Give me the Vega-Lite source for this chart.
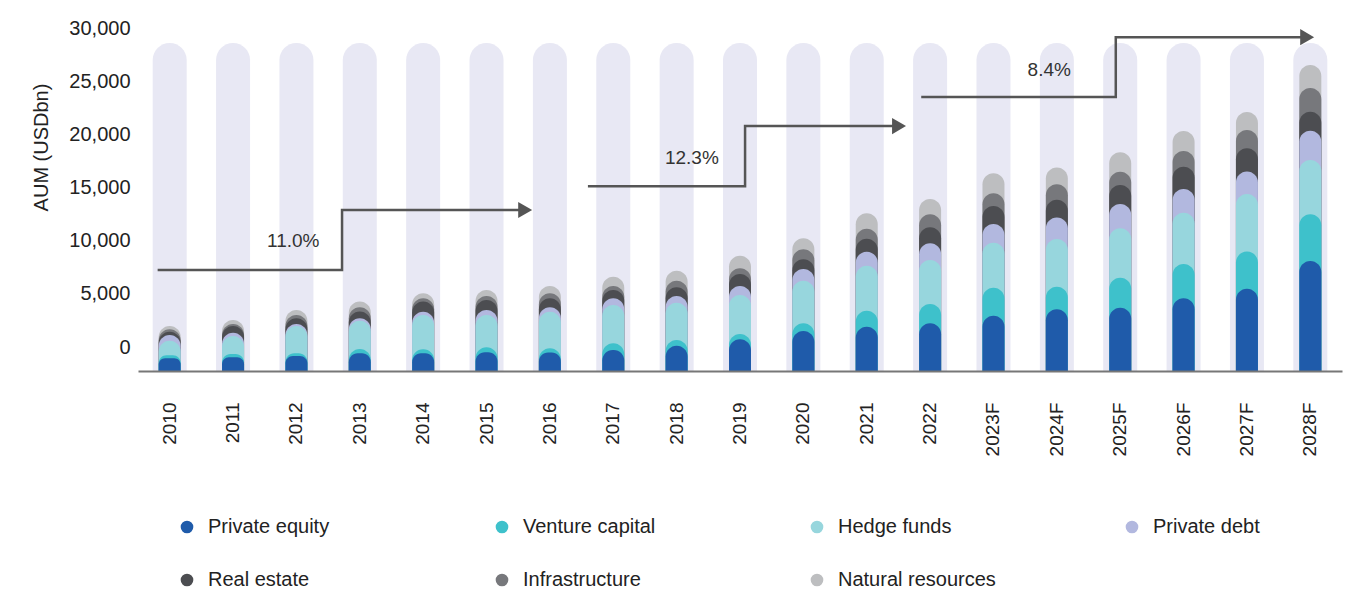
{
  "$schema": "https://vega.github.io/schema/vega-lite/v6.json",
  "width": 1204,
  "height": 340,
  "autosize": {"type": "none"},
  "padding": {"left": 138, "top": 31, "right": 21, "bottom": 219},
  "background": "white",
  "config": {"view": {"stroke": null}, "font": "Liberation Sans"},
  "datasets": {
    "aum": [
      {"year": "2010", "Private equity": 1200, "Venture capital": 280, "Hedge funds": 1370, "Private debt": 540, "Real estate": 310, "Infrastructure": 230, "Natural resources": 310},
      {"year": "2011", "Private equity": 1290, "Venture capital": 310, "Hedge funds": 1690, "Private debt": 310, "Real estate": 630, "Infrastructure": 190, "Natural resources": 380},
      {"year": "2012", "Private equity": 1410, "Venture capital": 250, "Hedge funds": 2570, "Private debt": 190, "Real estate": 540, "Infrastructure": 310, "Natural resources": 470},
      {"year": "2013", "Private equity": 1670, "Venture capital": 400, "Hedge funds": 2670, "Private debt": 230, "Real estate": 620, "Infrastructure": 420, "Natural resources": 530},
      {"year": "2014", "Private equity": 1670, "Venture capital": 370, "Hedge funds": 3230, "Private debt": 310, "Real estate": 950, "Infrastructure": 310, "Natural resources": 470},
      {"year": "2015", "Private equity": 1760, "Venture capital": 470, "Hedge funds": 3040, "Private debt": 470, "Real estate": 940, "Infrastructure": 380, "Natural resources": 560},
      {"year": "2016", "Private equity": 1730, "Venture capital": 410, "Hedge funds": 3440, "Private debt": 420, "Real estate": 840, "Infrastructure": 470, "Natural resources": 690},
      {"year": "2017", "Private equity": 1980, "Venture capital": 630, "Hedge funds": 3600, "Private debt": 630, "Real estate": 780, "Infrastructure": 380, "Natural resources": 880},
      {"year": "2018", "Private equity": 2380, "Venture capital": 540, "Hedge funds": 3510, "Private debt": 630, "Real estate": 820, "Infrastructure": 620, "Natural resources": 940},
      {"year": "2019", "Private equity": 2990, "Venture capital": 490, "Hedge funds": 3670, "Private debt": 850, "Real estate": 1130, "Infrastructure": 540, "Natural resources": 1180},
      {"year": "2020", "Private equity": 3770, "Venture capital": 720, "Hedge funds": 4010, "Private debt": 1100, "Real estate": 910, "Infrastructure": 950, "Natural resources": 1030},
      {"year": "2021", "Private equity": 4170, "Venture capital": 1510, "Hedge funds": 4230, "Private debt": 1320, "Real estate": 1220, "Infrastructure": 950, "Natural resources": 1440},
      {"year": "2022", "Private equity": 4490, "Venture capital": 1820, "Hedge funds": 4140, "Private debt": 1570, "Real estate": 1510, "Infrastructure": 1220, "Natural resources": 1440},
      {"year": "2023F", "Private equity": 5210, "Venture capital": 2630, "Hedge funds": 4240, "Private debt": 1760, "Real estate": 1700, "Infrastructure": 1190, "Natural resources": 1880},
      {"year": "2024F", "Private equity": 5810, "Venture capital": 2130, "Hedge funds": 4490, "Private debt": 2010, "Real estate": 1670, "Infrastructure": 1470, "Natural resources": 1570},
      {"year": "2025F", "Private equity": 5960, "Venture capital": 2820, "Hedge funds": 4650, "Private debt": 2290, "Real estate": 1790, "Infrastructure": 1250, "Natural resources": 1830},
      {"year": "2026F", "Private equity": 6840, "Venture capital": 3230, "Hedge funds": 4830, "Private debt": 2230, "Real estate": 2100, "Infrastructure": 1480, "Natural resources": 1880},
      {"year": "2027F", "Private equity": 7750, "Venture capital": 3490, "Hedge funds": 5430, "Private debt": 2100, "Real estate": 2200, "Infrastructure": 1720, "Natural resources": 1690},
      {"year": "2028F", "Private equity": 10350, "Venture capital": 4400, "Hedge funds": 5110, "Private debt": 2760, "Real estate": 1790, "Infrastructure": 2230, "Natural resources": 2170}
    ],
    "steps": [
      {"period": "2010-2016", "u": 0.31, "v": 9500},
      {"period": "2010-2016", "u": 3.22, "v": 9500},
      {"period": "2010-2016", "u": 3.22, "v": 15150},
      {"period": "2010-2016", "u": 6.11, "v": 15150},
      {"period": "2017-2022", "u": 7.1, "v": 17400},
      {"period": "2017-2022", "u": 9.58, "v": 17400},
      {"period": "2017-2022", "u": 9.58, "v": 23050},
      {"period": "2017-2022", "u": 12.01, "v": 23050},
      {"period": "2022-2028F", "u": 12.36, "v": 25780},
      {"period": "2022-2028F", "u": 15.43, "v": 25780},
      {"period": "2022-2028F", "u": 15.43, "v": 31420},
      {"period": "2022-2028F", "u": 18.45, "v": 31420}
    ],
    "heads": [
      {"period": "2010-2016", "u": 6.11, "v": 15150},
      {"period": "2017-2022", "u": 12.01, "v": 23050},
      {"period": "2022-2028F", "u": 18.45, "v": 31420}
    ],
    "cagr": [
      {"period": "2010-2016", "u": 2.45, "v": 12235, "label": "11.0%"},
      {"period": "2017-2022", "u": 8.74, "v": 20050, "label": "12.3%"},
      {"period": "2022-2028F", "u": 14.38, "v": 28330, "label": "8.4%"}
    ]
  },
  "layer": [
    {
      "data": {"name": "aum"},
      "transform": [{"aggregate": [{"op": "count", "as": "n"}], "groupby": ["year"]}],
      "mark": {"type": "bar", "width": 34, "cornerRadiusTopLeft": 17, "cornerRadiusTopRight": 17, "color": "#E8E8F4"},
      "encoding": {
        "x": {
          "field": "year", "type": "ordinal",
          "scale": {"paddingInner": 0, "paddingOuter": 0},
          "axis": {"title": null, "labelAngle": -90, "labelFontSize": 19, "labelColor": "#222222", "labelPadding": 31, "ticks": false, "domainColor": "#777777", "domainWidth": 2, "zindex": 1}
        },
        "y": {
          "datum": 30870, "type": "quantitative",
          "scale": {"domain": [0, 32000], "nice": false},
          "axis": {"title": "AUM (USDbn)", "values": [0, 5000, 10000, 15000, 20000, 25000, 30000], "labelExpr": "format(datum.value, ',.0f')", "labelFontSize": 20, "labelColor": "#222222", "labelPadding": 8, "labelOffset": -24, "ticks": false, "domain": false, "grid": false, "titleFontSize": 20, "titleFontWeight": "normal", "titleColor": "#222222", "titleX": -97, "titleY": 116, "titleAngle": -90, "titleAlign": "center", "titleBaseline": "middle"}
        }
      }
    },
    {
      "data": {"name": "aum"},
      "transform": [
        {"fold": ["Private equity", "Venture capital", "Hedge funds", "Private debt", "Real estate", "Infrastructure", "Natural resources"], "as": ["type", "aum"]},
        {"stack": "aum", "groupby": ["year"], "as": ["c0", "c1"]}
      ],
      "mark": {"type": "bar", "width": 22, "cornerRadiusTopLeft": 11, "cornerRadiusTopRight": 11},
      "encoding": {
        "x": {"field": "year", "type": "ordinal", "scale": {"paddingInner": 0, "paddingOuter": 0}, "axis": null},
        "y": {"field": "c1", "type": "quantitative", "stack": null},
        "order": {"field": "c1", "sort": "descending"},
        "color": {
          "field": "type", "type": "nominal",
          "scale": {
            "domain": ["Private equity", "Venture capital", "Hedge funds", "Private debt", "Real estate", "Infrastructure", "Natural resources"],
            "range": ["#1F5BAA", "#3EC1CB", "#97D6DD", "#B2B8DF", "#4C4D51", "#77787C", "#BDBEC0"]
          },
          "legend": {"title": null, "orient": "none", "legendX": 39, "legendY": 486, "direction": "horizontal", "columns": 4, "gridAlign": "all", "columnPadding": 126, "rowPadding": 33, "symbolType": "circle", "symbolSize": 160, "symbolStrokeWidth": 0, "labelFontSize": 20, "labelColor": "#222222", "labelOffset": 11, "labelLimit": 400, "padding": 0}
        }
      }
    },
    {
      "data": {"name": "steps"},
      "mark": {"type": "line", "color": "#555555", "strokeWidth": 2.5, "strokeJoin": "miter", "strokeCap": "butt"},
      "encoding": {
        "x": {"field": "u", "type": "quantitative", "scale": {"domain": [0, 19], "nice": false}, "axis": null},
        "y": {"field": "v", "type": "quantitative"},
        "detail": {"field": "period"},
        "order": {"value": null}
      }
    },
    {
      "data": {"name": "heads"},
      "mark": {"type": "point", "shape": "triangle-right", "filled": true, "color": "#555555", "size": 260, "opacity": 1},
      "encoding": {
        "x": {"field": "u", "type": "quantitative", "scale": {"domain": [0, 19], "nice": false}, "axis": null},
        "y": {"field": "v", "type": "quantitative"}
      }
    },
    {
      "data": {"name": "cagr"},
      "mark": {"type": "text", "fontSize": 19, "color": "#333333", "align": "center", "baseline": "middle"},
      "encoding": {
        "x": {"field": "u", "type": "quantitative", "scale": {"domain": [0, 19], "nice": false}, "axis": null},
        "y": {"field": "v", "type": "quantitative"},
        "text": {"field": "label"}
      }
    }
  ],
  "resolve": {"scale": {"x": "independent"}}
}
